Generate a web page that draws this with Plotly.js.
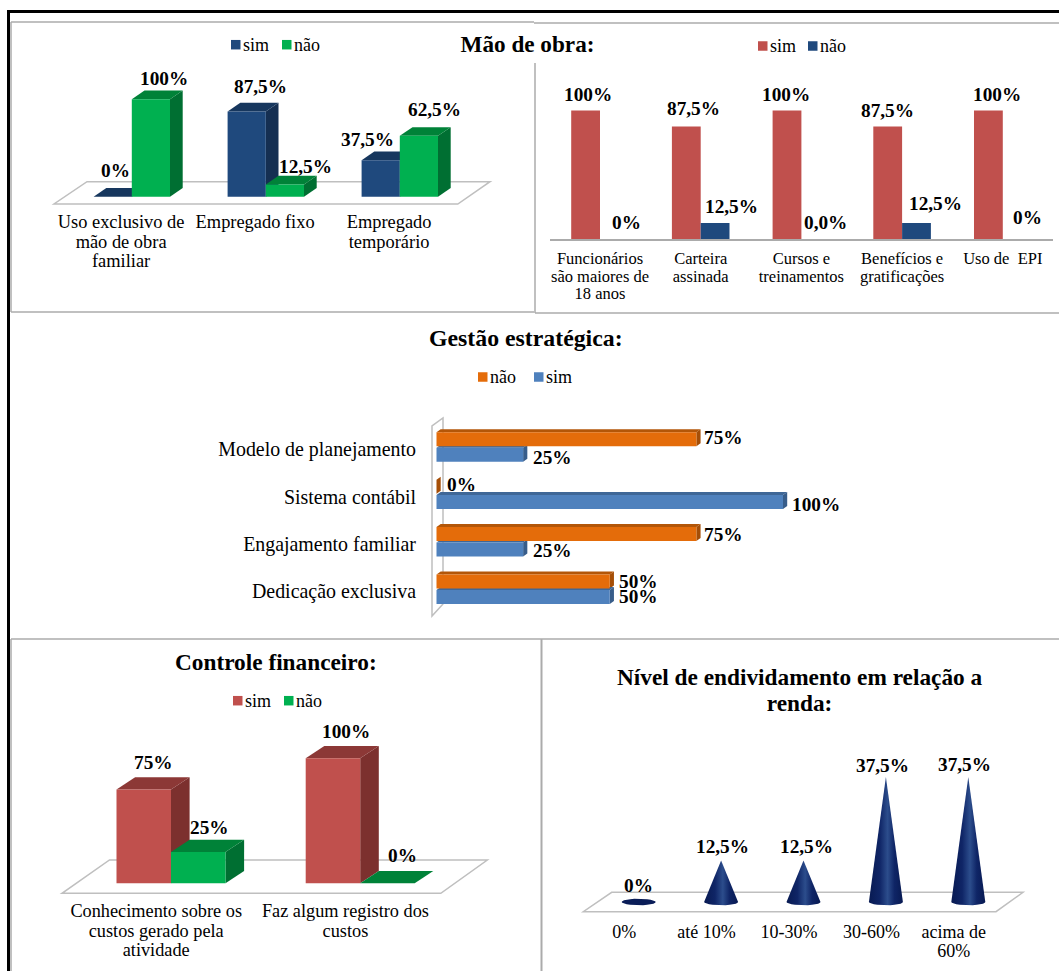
<!DOCTYPE html>
<html><head><meta charset="utf-8">
<script src="https://cdn.plot.ly/plotly-3.0.1.min.js"></script>
<style>html,body{margin:0;padding:0;background:#fff}</style></head>
<body><div id="chart" style="width:1059px;height:971px"></div>
<script>
// ---------- data ----------
var aCategories = ["Uso exclusivo de\nmão de obra\nfamiliar", "Empregado fixo", "Empregado\ntemporário"];
var aSim = [0, 87.5, 37.5];
var aNao = [100, 12.5, 62.5];
var aSimLabels = ["0%", "87,5%", "37,5%"];
var aNaoLabels = ["100%", "12,5%", "62,5%"];

var bCategories = ["Funcionários\nsão maiores de\n18 anos", "Carteira\nassinada", "Cursos e\ntreinamentos", "Benefícios e\ngratificações", "Uso de  EPI"];
var bSim = [100, 87.5, 100, 87.5, 100];
var bNao = [0, 12.5, 0, 12.5, 0];
var bSimLabels = ["100%", "87,5%", "100%", "87,5%", "100%"];
var bNaoLabels = ["0%", "12,5%", "0,0%", "12,5%", "0%"];

var cCategories = ["Modelo de planejamento", "Sistema contábil", "Engajamento familiar", "Dedicação exclusiva"];
var cNao = [75, 0, 75, 50];
var cSim = [25, 100, 25, 50];
var cNaoLabels = ["75%", "0%", "75%", "50%"];
var cSimLabels = ["25%", "100%", "25%", "50%"];

var dCategories = ["Conhecimento sobre os\ncustos gerado pela\natividade", "Faz algum registro dos\ncustos"];
var dSim = [75, 100];
var dNao = [25, 0];
var dSimLabels = ["75%", "100%"];
var dNaoLabels = ["25%", "0%"];

var eCategories = ["0%", "até 10%", "10-30%", "30-60%", "acima de\n60%"];
var eValues = [0, 12.5, 12.5, 37.5, 37.5];
var eLabels = ["0%", "12,5%", "12,5%", "37,5%", "37,5%"];

// ---------- label nudges in pixels: [right, up], relative to the mark ----------
var aSimShift = [[2.3,26.7],[14.2,24.5],[-13.6,21]];
var aNaoShift = [[13.3,21.3],[21,18.5],[16,26.8]];
var bSimShift = [[2.4,16.5],[6.7,17.6],[-0.6,16.5],[-0.7,16.3],[8.9,16.5]];
var bNaoShift = [[12.4,16.3],[15.9,16.3],[9.7,16.3],[19.4,19],[10.1,21.3]];
var cNaoShift = [[27.4,1.5],[25.3,2.7],[27.4,-0.7],[28.9,-0.3]];
var cSimShift = [[29.6,-2.5],[32.7,-2],[29.6,-1.4],[28.9,0]];
var dSimShift = [[9.3,27.5],[13,27.3]];
var dNaoShift = [[11.2,25],[15.5,28.3]];
var eShift = [[0,16.3],[1.7,13.5],[2.6,13.5],[-3.9,11.6],[-4,12.3]];

// ---------- styling ----------
var FONT = "Liberation Serif";
var W = 1059, H = 971;
var RED = {f:"#C0504D", s:"#7C302E", t:"#8C3836"};
var NAVY = {f:"#1F497D", s:"#152F52", t:"#17375E"};
var GREEN = {f:"#00B050", s:"#006F32", t:"#008238"};
var ORANGE = {f:"#E46C0A", s:"#A54E07", t:"#B35608"};
var BLUE = {f:"#4F81BD", s:"#385D8A", t:"#3F6797"};
var GRAY = "#ABABAB", FLOOR = "#BFBFBF";

var px = function(x){return x/W;}, py = function(y){return 1-y/H;};
var traces = [], shapes = [], annotations = [], layout = {};

function lines(t, size){
  return t.split("\n").map(function(l){return '<span style="font-size:'+size+'px">'+l+'</span>';}).join("<br>");
}
function axisPair(n, box, ox, ux, oy, uy, reverseY){
  var xn = n===1 ? "xaxis" : "xaxis"+n, yn = n===1 ? "yaxis" : "yaxis"+n;
  layout[xn] = {domain:[px(box.l),px(box.r)], range:[(box.l-ox)/ux,(box.r-ox)/ux], anchor:n===1?"y":"y"+n,
    showgrid:false, zeroline:false, showline:false, ticks:"", showticklabels:false, fixedrange:true};
  var yr = reverseY ? [(box.b-oy)/uy,(box.t-oy)/uy] : [(oy-box.b)/uy,(oy-box.t)/uy];
  layout[yn] = {domain:[py(box.b),py(box.t)], range:yr, anchor:n===1?"x":"x"+n,
    showgrid:false, zeroline:false, showline:false, ticks:"", showticklabels:false, fixedrange:true};
  return {x:n===1?"x":"x"+n, y:n===1?"y":"y"+n, xa:layout[xn], ya:layout[yn]};
}
function setTicks(ax, vals, labels, base, size, standoff){
  ax.showticklabels = true; ax.tickmode = "array"; ax.tickvals = vals; ax.tickangle = 0;
  ax.ticktext = labels.map(function(t){return lines(t,size);});
  ax.tickfont = {family:FONT, size:base, color:"#000"};
  ax.ticklabelstandoff = standoff;
}
function poly(a, pts, fill){
  var d = pts.map(function(p,i){return (i?"L":"M")+p[0]+" "+p[1];}).join(" ")+" Z";
  shapes.push({type:"path", xref:a.x, yref:a.y, layer:"below", path:d, fillcolor:fill, line:{width:0}});
}
function pagePoly(pts, fill, color, w){
  var d = pts.map(function(p,i){return (i?"L":"M")+px(p[0])+" "+py(p[1]);}).join(" ")+" Z";
  shapes.push({type:"path", xref:"paper", yref:"paper", layer:"below", path:d, fillcolor:fill, line:{color:color,width:w}});
}
function rule(x0,y0,x1,y1,color,w){
  shapes.push({type:"line", xref:"paper", yref:"paper", layer:"below", x0:px(x0), y0:py(y0), x1:px(x1), y1:py(y1), line:{color:color,width:w}});
}
function label(a, x, y, text, shift, size){
  annotations.push({xref:a.x, yref:a.y, x:x, y:y, text:text, showarrow:false, xanchor:"center", yanchor:"middle",
    xshift:shift[0], yshift:shift[1], font:{family:FONT, size:size||19.3, color:"#000", weight:"bold"}, borderpad:0});
}
function heading(text, x, y, size){
  annotations.push({xref:"paper", yref:"paper", x:px(x), y:py(y), text:text, showarrow:false, xanchor:"center", yanchor:"middle",
    font:{family:FONT, size:size, color:"#000", weight:"bold"}});
}
function key(x, y, text, color){
  var s = 9.5;
  shapes.push({type:"rect", xref:"paper", yref:"paper", layer:"below", x0:px(x), x1:px(x+s), y0:py(y+s/2), y1:py(y-s/2), fillcolor:color, line:{width:0}});
  annotations.push({xref:"paper", yref:"paper", x:px(x+s+1.5), y:py(y), text:text, showarrow:false, xanchor:"left", yanchor:"middle",
    font:{family:FONT, size:18, color:"#000"}, borderpad:0});
}
function colBar(a, name, xs, vals, off, width, col){
  traces.push({type:"bar", name:name, x:xs, y:vals, xaxis:a.x, yaxis:a.y, width:width, offset:off,
    marker:{color:col.f, line:{width:0}}, showlegend:false, hoverinfo:"x+y"});
}
function solidFaces(a, xs, vals, off, width, col, dx, dy){
  xs.forEach(function(x,i){
    var x0=x+off, x1=x0+width, v=vals[i];
    poly(a, [[x1,0],[x1,v],[x1+dx,v+dy],[x1+dx,dy]], col.s);
    poly(a, [[x0,v],[x1,v],[x1+dx,v+dy],[x0+dx,v+dy]], col.t);
  });
}
function idx(arr){return arr.map(function(_,i){return i;});}

// ---------- page frames ----------
rule(11,22,534,22,GRAY,1.5); rule(11,22,11,312,GRAY,1.5); rule(11,312,534,312,GRAY,1.5);
rule(534,23,1059,23,GRAY,1.5); rule(535,63,535,313,GRAY,1.5); rule(535,313,1059,313,GRAY,1.5);
rule(11,639,1059,639,GRAY,1.5); rule(11,639,11,971,GRAY,1.5); rule(541.5,639,541.5,971,GRAY,2);
rule(7,11.5,1059,11.5,"#000",3); rule(8.5,10,8.5,971,"#000",3);

// ---------- A: mão de obra, 3-D columns ----------
(function(){
  var ox=131.8, ux=134, base=196.7, uy=0.974, w=38.2/ux, dx=12.7/ux, dy=8.7/uy;
  var a = axisPair(1,{l:14,r:530,t:60,b:206},ox,ux,base,uy);
  var xs = idx(aCategories);
  pagePoly([[54,204],[457.8,204],[490,181.7],[87,181.7]],"#fff",FLOOR,1.5);
  solidFaces(a,xs,aSim,-w,w,NAVY,dx,dy);
  solidFaces(a,xs,aNao,0,w,GREEN,dx,dy);
  colBar(a,"sim",xs,aSim,-w,w,NAVY);
  colBar(a,"não",xs,aNao,0,w,GREEN);
  setTicks(a.xa, xs.map(function(v){return v-10.7/ux;}), aCategories, 15, 18.4, 6);
  xs.forEach(function(i){
    label(a,i-w/2,aSim[i],aSimLabels[i],aSimShift[i]);
    label(a,i+w/2,aNao[i],aNaoLabels[i],aNaoShift[i]);
  });
  key(231,44.7,"sim",NAVY.f); key(282,44.7,"não",GREEN.f);
})();

// ---------- B: mão de obra, flat columns ----------
(function(){
  var ox=600, ux=100.7, base=239, uy=1.285, w=28.8/ux;
  var a = axisPair(2,{l:549.6,r:1053,t:60,b:base},ox,ux,base,uy);
  var xs = idx(bCategories);
  colBar(a,"sim",xs,bSim,-w,w,RED);
  colBar(a,"não",xs,bNao,0,w,NAVY);
  a.xa.showline = true; a.xa.linecolor = GRAY; a.xa.linewidth = 1.5;
  setTicks(a.xa, xs, bCategories, 13.1, 16.5, 8);
  xs.forEach(function(i){
    label(a,i-w/2,bSim[i],bSimLabels[i],bSimShift[i]);
    label(a,i+w/2,bNao[i],bNaoLabels[i],bNaoShift[i]);
  });
  key(758,46,"sim",RED.f); key(808,46,"não",NAVY.f);
})();

// ---------- C: gestão estratégica, 3-D horizontal bars ----------
(function(){
  var ox=436.5, ux=3.465, oy=447, uy=47.4, h=14/uy, gap=0.7/uy, dx=4.2/ux, dy=3/uy;
  var a = axisPair(3,{l:425,r:860,t:410,b:622},ox,ux,oy,uy,true);
  var ys = idx(cCategories);
  pagePoly([[432,616],[432,426],[443,418],[443,604]],"#fff",FLOOR,1.5);
  function faces(vals,off,col){
    ys.forEach(function(y,i){
      var y0=y+off, y1=y0+h, v=vals[i];
      poly(a,[[0,y0],[v,y0],[v+dx,y0-dy],[dx,y0-dy]],col.t);
      poly(a,[[v,y0],[v,y1],[v+dx,y1-dy],[v+dx,y0-dy]],col.s);
    });
  }
  faces(cNao,-h-gap,ORANGE); faces(cSim,gap,BLUE);
  traces.push({type:"bar",orientation:"h",name:"não",x:cNao,y:ys,xaxis:a.x,yaxis:a.y,width:h,offset:-h-gap,marker:{color:ORANGE.f,line:{width:0}},showlegend:false});
  traces.push({type:"bar",orientation:"h",name:"sim",x:cSim,y:ys,xaxis:a.x,yaxis:a.y,width:h,offset:gap,marker:{color:BLUE.f,line:{width:0}},showlegend:false});
  setTicks(a.ya, ys.map(function(v){return v+4/uy;}), cCategories, 15, 19.9, 8);
  ys.forEach(function(i){
    label(a,cNao[i],i-h/2-gap,cNaoLabels[i],cNaoShift[i]);
    label(a,cSim[i],i+h/2+gap,cSimLabels[i],cSimShift[i]);
  });
  heading("Gestão estratégica:",525.5,338.2,23.8);
  key(478,377,"não",ORANGE.f); key(534,377,"sim",BLUE.f);
})();

// ---------- D: controle financeiro, 3-D columns ----------
(function(){
  var ox=171, ux=189.2, base=883.3, uy=1.25, w=54.5/ux, dx=18.6/ux, dy=12.3/uy;
  var a = axisPair(4,{l:14,r:535,t:715,b:895},ox,ux,base,uy);
  var xs = idx(dCategories);
  pagePoly([[62,893.3],[440.8,893.3],[487.3,860],[109.5,860]],"#fff",FLOOR,1.5);
  solidFaces(a,xs,dSim,-w,w,RED,dx,dy);
  solidFaces(a,xs,dNao,0,w,GREEN,dx,dy);
  colBar(a,"sim",xs,dSim,-w,w,RED);
  colBar(a,"não",xs,dNao,0,w,GREEN);
  setTicks(a.xa, xs.map(function(v){return v-14.8/ux;}), dCategories, 15, 18.3, 6);
  xs.forEach(function(i){
    label(a,i-w/2,dSim[i],dSimLabels[i],dSimShift[i]);
    label(a,i+w/2,dNao[i],dNaoLabels[i],dNaoShift[i]);
  });
  heading("Controle financeiro:",275.5,662.2,23.3);
  key(233,700.7,"sim",RED.f); key(284,700.7,"não",GREEN.f);
})();

// ---------- E: endividamento, cones ----------
(function(){
  var ox=638.7, ux=82.4, base=902, uy=3.33, rx=17/ux, ry=3.3/uy;
  var a = axisPair(5,{l:548,r:1055,t:730,b:913},ox,ux,base,uy);
  var xs = idx(eCategories);
  pagePoly([[583.3,911.7],[996,911.7],[1023,892.3],[611.7,892.3]],"#fff",FLOOR,1.5);
  xs.forEach(function(i){
    var v = eValues[i], X=[], Y=[], k, t;
    X.push(i-rx); Y.push(0);
    if(v>0){ X.push(i); Y.push(v); }
    else { for(k=1;k<12;k++){ t=Math.PI*k/12; X.push(i-rx*Math.cos(t)); Y.push(ry*Math.sin(t)); } }
    for(k=0;k<=12;k++){ t=Math.PI*k/12; X.push(i+rx*Math.cos(t)); Y.push(-ry*Math.sin(t)); }
    traces.push({type:"scatter",mode:"lines",x:X,y:Y,xaxis:a.x,yaxis:a.y,fill:"toself",line:{width:0,color:"#0B1F5E"},
      fillgradient:{type:"horizontal",colorscale:v>0?[[0,"#081A52"],[0.32,"#0F2566"],[0.55,"#2C4D8C"],[0.75,"#0F2566"],[1,"#081A52"]]:[[0,"#0A1D58"],[1,"#0A1D58"]]},
      name:eCategories[i].replace("\n"," "),showlegend:false,hoverinfo:"name"});
    label(a,i,v,eLabels[i],eShift[i]);
  });
  setTicks(a.xa, xs.map(function(v){return v-14.5/ux;}), eCategories, 14.6, 18, 9);
  annotations.push({xref:"paper",yref:"paper",x:px(800),y:py(689.5),showarrow:false,xanchor:"center",yanchor:"middle",align:"center",
    text:lines("Nível de endividamento em relação a\nrenda:",23.3),font:{family:FONT,size:19.7,color:"#000",weight:"bold"}});
})();

layout.width = W; layout.height = H; layout.autosize = false;
layout.margin = {l:0,r:0,t:0,b:0,pad:0};
layout.paper_bgcolor = "#fff"; layout.plot_bgcolor = "rgba(0,0,0,0)";
layout.barmode = "overlay"; layout.showlegend = false;
layout.title = {text:"Mão de obra:", x:px(527.5), y:py(44), xanchor:"center", yanchor:"middle", xref:"paper", yref:"paper",
  font:{family:FONT,size:23.2,color:"#000",weight:"bold"}};
layout.shapes = shapes; layout.annotations = annotations;
Plotly.newPlot("chart", traces, layout, {displayModeBar:false, responsive:false});
</script></body></html>
